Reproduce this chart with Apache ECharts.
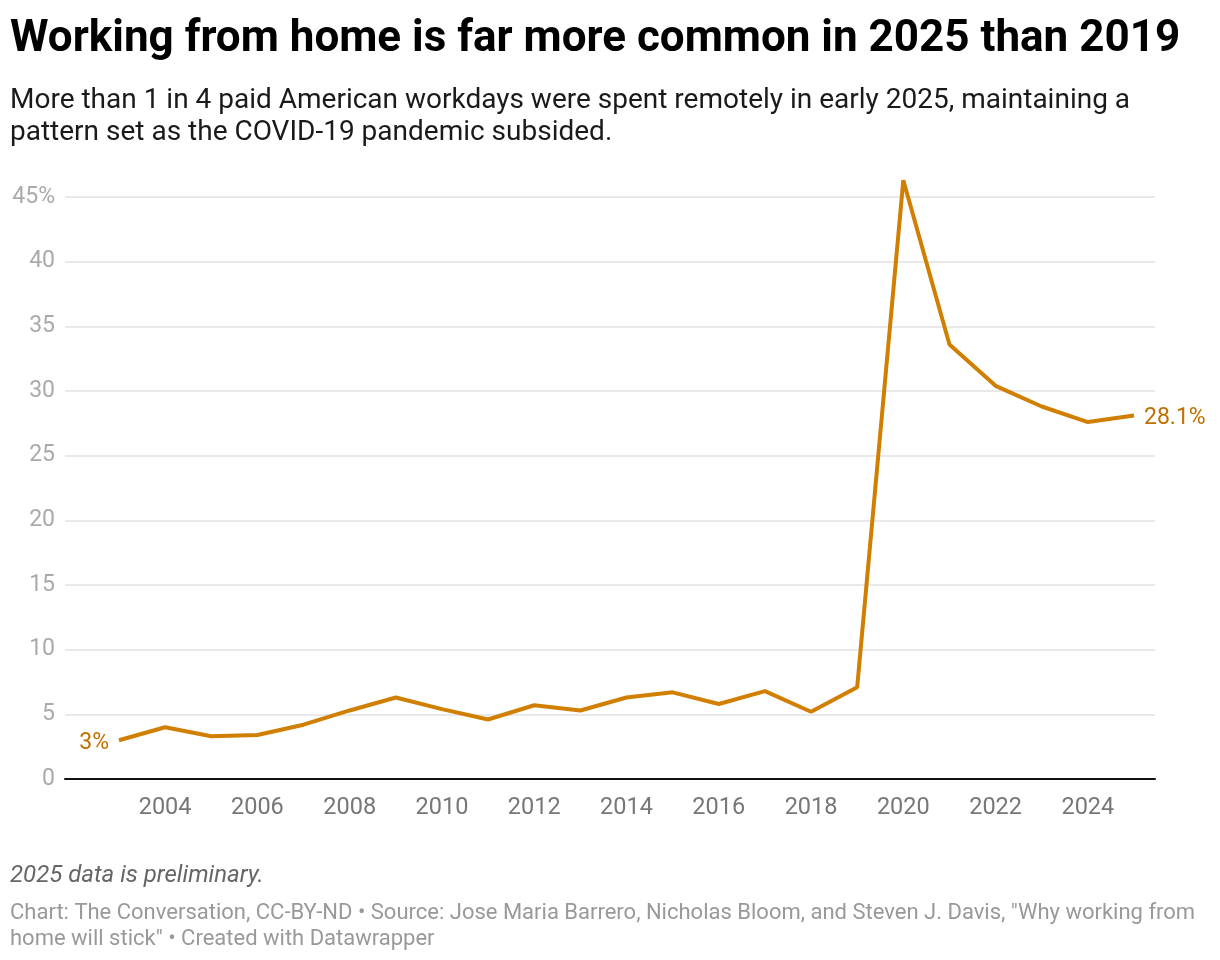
<!DOCTYPE html>
<html><head><meta charset="utf-8">
<script src="https://cdn.jsdelivr.net/npm/echarts@6/dist/echarts.min.js"></script>
<style>html,body{margin:0;padding:0;background:#fff}#c{width:1220px;height:960px}</style>
</head><body><div id="c"></div>
<script>
const years = [2003,2004,2005,2006,2007,2008,2009,2010,2011,2012,2013,2014,2015,2016,2017,2018,2019,2020,2021,2022,2023,2024,2025];
const remoteShare = [3.0,4.0,3.3,3.4,4.2,5.3,6.3,5.4,4.6,5.7,5.3,6.3,6.7,5.8,6.8,5.2,7.1,46.3,33.6,30.4,28.8,27.6,28.1];
const xTickLabels = [2004,2006,2008,2010,2012,2014,2016,2018,2020,2022,2024];

const lineColor = '#d17f00';
const labelColor = '#bf7000';
const data = years.map((y,i)=>{
  const d = {value:[y, remoteShare[i]]};
  if (i===0) d.label = {show:true, position:'left', distance:10, formatter: remoteShare[i]+'%'};
  if (i===years.length-1) d.label = {show:true, position:'right', distance:10, formatter: remoteShare[i].toFixed(1)+'%'};
  return d;
});

const chart = echarts.init(document.getElementById('c'), null, {renderer:'canvas'});
chart.setOption({
  animation:false,
  textStyle:{fontFamily:'Roboto'},
  grid:{left:65, right:65, top:197, bottom:181, containLabel:false},
  xAxis:{type:'value', min:2001.83, max:2025.455,
    axisLine:{show:true, onZero:false, lineStyle:{color:'#111', width:2}},
    axisTick:{show:false},
    splitLine:{show:false},
    axisLabel:{customValues:xTickLabels, color:'#777', fontSize:23.5, margin:17, fontFamily:'Roboto', formatter:v=>String(v)}
  },
  yAxis:{type:'value', min:0, max:45, interval:5,
    axisLine:{show:false}, axisTick:{show:false},
    splitLine:{lineStyle:{color:'#e2e2e2', width:1.5}},
    axisLabel:{color:'#aaa', fontSize:23, margin:10, fontFamily:'Roboto',
      formatter:v=> v===45 ? '45%' : String(v)}
  },
  series:[{type:'line', data:data, symbol:'circle', symbolSize:0, showSymbol:true, clip:false,
    lineStyle:{color:lineColor, width:4},
    itemStyle:{color:lineColor},
    label:{show:false, color:labelColor, fontSize:23, fontFamily:'Roboto', offset:[0,3]}
  }],
  graphic:[
    {type:'text', left:10, top:18, style:{text:'Working from home is far more common in 2025 than 2019', font:'bold 44px Roboto', fill:'#000'}},
    {type:'text', left:10, top:85, style:{text:'More than 1 in 4 paid American workdays were spent remotely in early 2025, maintaining a\npattern set as the COVID-19 pandemic subsided.', font:'28px Roboto', fill:'#1a1a1a', lineHeight:32}},
    {type:'text', left:10, top:864, style:{text:'2025 data is preliminary.', font:'italic 24px Roboto', fill:'#666'}},
    {type:'text', left:10, top:900, style:{text:'Chart: The Conversation, CC-BY-ND \u2022 Source: Jose Maria Barrero, Nicholas Bloom, and Steven J. Davis, "Why working from\nhome will stick" \u2022 Created with Datawrapper', font:'22px Roboto', fill:'#999', lineHeight:26}}
  ]
});
</script></body></html>
